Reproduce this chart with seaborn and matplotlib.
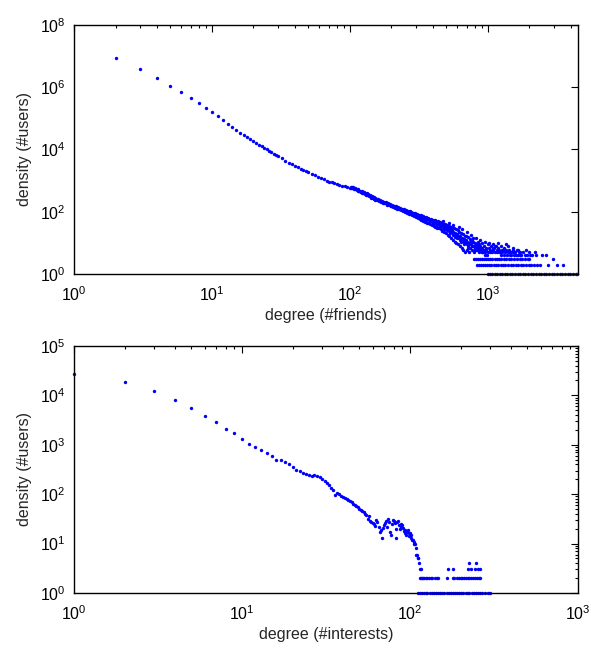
import matplotlib
matplotlib.use("Agg")
import matplotlib.pyplot as plt
import seaborn as sns
from matplotlib.ticker import LogLocator, NullLocator, NullFormatter

sns.set_theme(style="white")
plt.rcParams['font.family'] = ['Liberation Sans', 'DejaVu Sans']
plt.rcParams['mathtext.default'] = 'regular'

# ---- degree (#friends): values ----
friends_head_deg = [2, 3, 4, 5, 6, 7, 8, 9, 10, 11, 12, 13, 14, 15, 16, 17, 18, 19, 20,
                    21, 22, 23, 24, 25, 26, 27, 28, 29, 30, 32, 34, 36, 38, 40, 42, 44,
                    46, 48, 50, 53, 56, 59, 62, 65, 68, 71, 74, 77, 80, 84, 88, 92, 96, 100]
friends_head_cnt = [9.0e6, 3.8e6, 1.95e6, 1.12e6, 6.8e5, 4.4e5, 3.0e5, 2.1e5, 1.6e5,
                    1.15e5, 8.8e4, 6.8e4, 5.3e4, 4.3e4, 3.5e4, 2.95e4, 2.5e4, 2.15e4,
                    1.85e4, 1.62e4, 1.42e4, 1.26e4, 1.12e4, 1.0e4, 9.0e3, 8.1e3, 7.3e3,
                    6.7e3, 6.1e3, 5.2e3, 4.4e3, 3.8e3, 3.3e3, 2.9e3, 2.65e3, 2.4e3, 2.2e3,
                    2.0e3, 1.85e3, 1.65e3, 1.48e3, 1.33e3, 1.2e3, 1.1e3, 1.0e3, 930, 870,
                    820, 770, 720, 680, 650, 620, 590]
friends_band = [(102, 610), (105, 560), (108, 545), (111, 520), (114, 480), (117, 470),
                (120, 440), (123, 410), (126, 400), (130, 370), (134, 350), (138, 320),
                (142, 300), (146, 285), (150, 260), (155, 250), (160, 232), (165, 222),
                (170, 210), (176, 196), (182, 184), (188, 176), (194, 166), (200, 158),
                (207, 150), (214, 140), (221, 132), (228, 126), (236, 118), (244, 112),
                (252, 106), (260, 100), (268, 96), (276, 92), (285, 88), (294, 82),
                (303, 78), (312, 74), (322, 70), (332, 66), (342, 62), (352, 60),
                (363, 57), (374, 54), (385, 51), (396, 49), (408, 46), (420, 44),
                (432, 42), (445, 39), (458, 37), (472, 35), (486, 33), (500, 31),
                (515, 29), (530, 27), (546, 25), (562, 23), (579, 21), (596, 19),
                (614, 17), (632, 16), (651, 14), (670, 13), (690, 12), (711, 11),
                (732, 10), (754, 9), (777, 8), (800, 8), (824, 7), (849, 6), (874, 6),
                (900, 5), (927, 5), (955, 4), (984, 4)]
friends_scatter = [(101, 560), (103, 640), (104, 590), (106, 600), (107, 520), (109, 570),
                   (112, 540), (113, 500), (115, 520), (116, 455), (119, 480), (121, 430),
                   (122, 470), (124, 395), (127, 420), (128, 380), (129, 405), (131, 350),
                   (133, 385), (135, 335), (136, 360), (139, 340), (141, 315), (143, 285),
                   (144, 330), (147, 270), (149, 295), (152, 275), (153, 245), (156, 265),
                   (158, 238), (161, 252), (163, 215), (166, 240), (168, 205), (171, 228),
                   (174, 196), (177, 212), (179, 185), (183, 200), (185, 170), (189, 188),
                   (192, 160), (196, 178), (199, 150), (203, 168), (206, 142), (210, 158),
                   (213, 132), (217, 150), (220, 125), (224, 140), (227, 118), (231, 134),
                   (234, 112), (239, 126), (242, 104), (246, 120), (250, 98), (255, 114),
                   (258, 92), (263, 108), (266, 86), (271, 102), (274, 82), (279, 97),
                   (283, 76), (288, 94), (292, 72), (297, 90), (301, 68), (306, 86),
                   (310, 64), (316, 80), (320, 60), (326, 78), (330, 55), (336, 73),
                   (340, 52), (345, 70), (350, 47), (356, 67), (361, 45), (366, 64),
                   (371, 42), (377, 60), (382, 40), (388, 58), (393, 37), (400, 56),
                   (405, 35), (411, 53), (417, 33), (423, 51), (429, 31), (436, 49),
                   (442, 29), (449, 47), (455, 27), (463, 44), (468, 24), (476, 41),
                   (483, 22), (491, 39), (497, 20), (506, 37), (512, 18), (521, 35),
                   (527, 16), (537, 33), (543, 14), (553, 31), (559, 12), (569, 29),
                   (575, 11), (586, 27), (592, 10), (604, 25), (610, 9), (622, 23),
                   (628, 8), (640, 21), (646, 7), (659, 19), (665, 6), (678, 17),
                   (685, 5), (698, 16), (705, 6), (719, 15), (725, 5), (740, 13),
                   (747, 7), (762, 12), (770, 6), (785, 11), (792, 5), (808, 10),
                   (816, 7), (832, 9), (840, 6), (857, 9), (866, 5), (883, 8), (892, 7),
                   (910, 10), (919, 6), (937, 8), (947, 5), (966, 7), (976, 6), (995, 9),
                   (1005, 5), (1025, 7), (1035, 6), (1055, 8), (1066, 5), (1088, 7),
                   (1098, 6), (1120, 5), (1132, 8), (1155, 6), (1166, 5), (1190, 7),
                   (1202, 6), (1226, 5), (1238, 4), (1262, 6), (1276, 5), (1300, 4),
                   (1315, 7), (1340, 5), (1355, 6), (1380, 4), (1395, 5), (1422, 6),
                   (1437, 4), (1465, 5), (1480, 4), (1510, 6), (1525, 5), (1555, 4),
                   (1572, 5), (1602, 4), (1620, 6), (1650, 4), (1670, 5), (1700, 4),
                   (1720, 5), (1752, 4), (1805, 5), (1860, 4), (1915, 4), (1975, 5),
                   (2035, 4), (2100, 4), (2230, 4), (2450, 4), (2650, 4)]
friends_extra = [(415, 44), (430, 40), (447, 36), (460, 34), (480, 30), (495, 28),
                 (510, 26), (525, 24), (540, 22), (556, 21), (572, 19), (590, 17),
                 (605, 16), (620, 14), (638, 13), (655, 12), (672, 11), (690, 10),
                 (708, 9), (728, 10), (748, 9), (768, 8), (790, 8), (812, 7), (835, 8),
                 (860, 7), (885, 6), (910, 5), (620, 32), (560, 38), (650, 28),
                 (700, 22), (760, 18), (820, 14), (880, 12), (950, 11), (1020, 10),
                 (1090, 9), (1150, 8), (1250, 8), (470, 52), (520, 45), (580, 15),
                 (640, 11), (720, 8), (780, 14), (850, 11), (1180, 10), (1400, 8),
                 (1520, 7), (1350, 9), (1650, 6), (1900, 6), (2200, 5),
                 (335, 62), (358, 54), (380, 49), (402, 45), (426, 38), (452, 33),
                 (478, 27), (503, 25), (532, 21), (562, 18), (598, 14), (632, 12),
                 (668, 9), (712, 7), (745, 11), (800, 6), (845, 8), (905, 7),
                 (960, 6), (1040, 5), (1110, 7), (1210, 5), (1290, 6), (1450, 5)]
friends_row3 = [790, 820, 850, 880, 910, 940, 970, 1000, 1040, 1080, 1120, 1160, 1200,
                1250, 1300, 1360, 1420, 1480, 1550, 1620, 1700, 1780, 1860, 1950, 2000, 2950]
friends_row2 = [830, 860, 890, 920, 950, 985, 1020, 1060, 1100, 1140, 1190, 1240, 1290,
                1340, 1400, 1460, 1520, 1590, 1660, 1730, 1810, 1890, 1980, 2070, 2160,
                2260, 2380, 2740, 3150, 3500]
friends_row1 = [1000, 1040, 1080, 1120, 1170, 1220, 1270, 1320, 1380, 1440, 1500, 1570,
                1640, 1710, 1790, 1870, 1950, 2040, 2130, 2230, 2330, 2430, 2540, 2660,
                2780, 2900, 3030, 3170, 3310, 3460, 3620, 3780, 3950, 4130, 4320, 4450]

# ---- degree (#interests) ----
interests_deg = list(range(1, 114)) + [115, 117, 119]
interests_cnt = [2.7e4, 1.9e4, 1.23e4, 8.1e3, 5.5e3, 3.9e3, 2.9e3, 2.1e3, 1.7e3, 1.3e3,
                 1.05e3, 890, 800, 680, 600, 490, 500, 445, 400, 350,
                 310, 290, 272, 258, 245, 238, 248, 228, 218, 200,
                 188, 172, 152, 135, 122, 96, 108, 100, 90, 86,
                 82, 79, 76, 73, 70, 64, 60, 58, 56, 50,
                 48, 46, 44, 40, 38, 31, 36, 29, 27, 26,
                 25, 23, 30, 27, 22, 17, 19, 13, 21, 24,
                 26, 28, 22, 31, 27, 17, 15, 25, 30, 29,
                 26, 20, 13, 27, 28, 24, 20, 25, 22, 24,
                 21, 18, 19, 16, 15, 17, 19, 16, 14, 16,
                 15, 13, 12, 12, 11, 10, 10, 8, 6, 6,
                 5, 5, 4, 3, 3, 2]
interests_row4 = [225, 248]
interests_row3 = [168, 180, 222, 232, 244, 255, 262]
interests_row2 = [114, 116, 118, 121, 124, 127, 130, 133, 136, 140, 144, 147, 165, 180,
                  184, 190, 195, 200, 205, 210, 215, 220, 226, 232, 238, 244, 250, 256, 262]
interests_row1 = [112, 115, 118, 121, 124, 127, 131, 135, 139, 143, 147, 151, 155, 160,
                  165, 170, 175, 180, 185, 190, 196, 202, 208, 214, 220, 226, 233, 240,
                  247, 254, 262, 270, 278, 290, 300]

pairs = friends_band + friends_scatter + friends_extra
f_x = (friends_head_deg + [d for d, c in pairs]
       + friends_row3 + friends_row2 + friends_row1)
f_y = (friends_head_cnt + [c for d, c in pairs]
       + [3] * len(friends_row3) + [2] * len(friends_row2) + [1] * len(friends_row1))
i_x = interests_deg + interests_row4 + interests_row3 + interests_row2 + interests_row1
i_y = (interests_cnt + [4] * len(interests_row4) + [3] * len(interests_row3)
       + [2] * len(interests_row2) + [1] * len(interests_row1))

fig = plt.figure(figsize=(5.91, 6.48), dpi=100)
ax1 = fig.add_axes([0.1252, 0.5772, 0.8528, 0.3843])
ax2 = fig.add_axes([0.1252, 0.0849, 0.8528, 0.3812])

sns.scatterplot(x=f_x, y=f_y, ax=ax1, color='#0000ff', s=6, linewidth=0,
                marker='o', clip_on=False)
sns.scatterplot(x=i_x, y=i_y, ax=ax2, color='#0000ff', s=6, linewidth=0,
                marker='o', clip_on=False)

for ax in (ax1, ax2):
    ax.set_xscale('log')
    ax.set_yscale('log')
    for sp in ax.spines.values():
        sp.set_color('black')
        sp.set_linewidth(1.0)
    ax.tick_params(which='both', direction='in', top=True, right=True,
                   colors='black', labelsize=11.5, width=0.8)
    ax.tick_params(which='major', length=5)
    ax.tick_params(which='minor', length=2.5)
    ax.tick_params(axis='x', which='major', pad=8)
    ax.tick_params(axis='y', which='major', pad=6)
    ax.xaxis.set_minor_locator(LogLocator(base=10, subs=range(2, 10), numticks=20))
    ax.xaxis.set_minor_formatter(NullFormatter())

ax1.set_xlim(1, 4500)
ax1.set_ylim(1, 1e8)
ax1.set_yticks([1, 1e2, 1e4, 1e6, 1e8])
ax1.yaxis.set_minor_locator(NullLocator())
ax1.set_xlabel('degree (#friends)', fontsize=11.5, labelpad=3)
ax1.set_ylabel('density (#users)', fontsize=11.5, labelpad=6)

ax2.set_xlim(1, 1000)
ax2.set_ylim(1, 1e5)
ax2.yaxis.set_minor_locator(LogLocator(base=10, subs=range(2, 10), numticks=20))
ax2.yaxis.set_minor_formatter(NullFormatter())
ax2.set_xlabel('degree (#interests)', fontsize=11.5, labelpad=3)
ax2.set_ylabel('density (#users)', fontsize=11.5, labelpad=6)

fig.savefig('out.png', dpi=100)
